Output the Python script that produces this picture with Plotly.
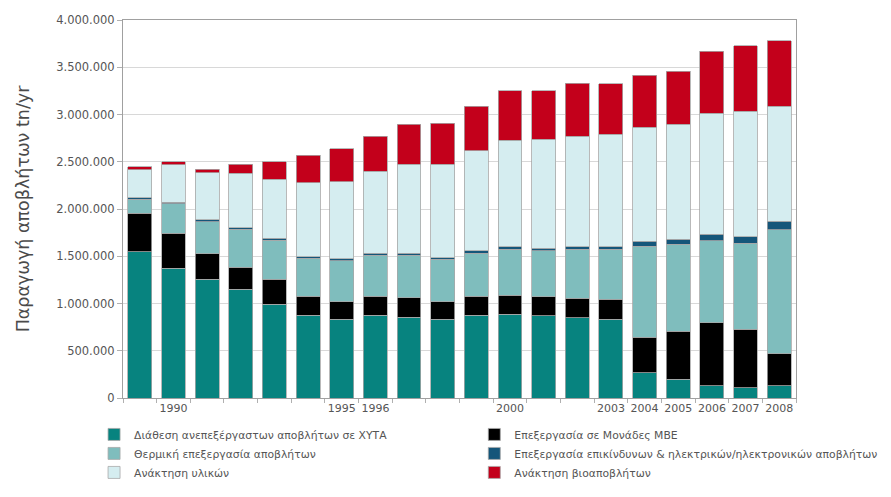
import plotly.graph_objects as go

# Years on the category axis (only some are labelled)
years = list(range(1989, 2009))
labelled_years = [1990, 1995, 1996, 2000, 2003, 2004, 2005, 2006, 2007, 2008]

# Waste quantities per management route, tonnes per year
landfill = [1548000, 1372000, 1256000, 1150000, 991000, 878000, 833000, 878000, 854000, 833000,
            878000, 885000, 868000, 850000, 833000, 265000, 198000, 130000, 109000, 130000]
mbt = [406000, 370000, 268000, 233000, 265000, 201000, 186000, 201000, 207000, 186000,
       201000, 205000, 204000, 205000, 211000, 377000, 511000, 667000, 618000, 336000]
thermal = [149000, 311000, 342000, 402000, 416000, 399000, 434000, 434000, 452000, 449000,
           452000, 483000, 487000, 518000, 529000, 966000, 917000, 868000, 910000, 1312000]
hazardous = [18000, 18000, 18000, 18000, 18000, 18000, 18000, 18000, 18000, 18000,
             25000, 25000, 25000, 25000, 25000, 50000, 53000, 67000, 70000, 95000]
materials = [292000, 395000, 500000, 574000, 627000, 783000, 818000, 871000, 941000, 986000,
             1058000, 1132000, 1153000, 1174000, 1192000, 1206000, 1217000, 1281000, 1330000, 1217000]
biowaste = [35000, 35000, 39000, 99000, 184000, 292000, 346000, 370000, 427000, 435000,
            476000, 519000, 515000, 558000, 533000, 550000, 564000, 659000, 688000, 691000]

series = [
    ("Διάθεση ανεπεξέργαστων αποβλήτων σε ΧΥΤΑ", landfill, "#07837f", "legend"),
    ("Επεξεργασία σε Μονάδες ΜΒΕ", mbt, "#000000", "legend2"),
    ("Θερμική επεξεργασία αποβλήτων", thermal, "#7fbdbd", "legend"),
    ("Επεξεργασία επικίνδυνων & ηλεκτρικών/ηλεκτρονικών αποβλήτων", hazardous, "#15567a", "legend2"),
    ("Ανάκτηση υλικών", materials, "#d5edf0", "legend"),
    ("Ανάκτηση βιοαποβλήτων", biowaste, "#c3001b", "legend2"),
]

FONT = "DejaVu Sans"
GREY = "#555555"

fig = go.Figure()
for name, values, colour, leg in series:
    fig.add_trace(go.Bar(
        x=years, y=values, name=name, legend=leg,
        marker=dict(color=colour, line=dict(color="#a8a8a8", width=0.8)),
    ))

fig.update_layout(
    width=891, height=497,
    barmode="stack", bargap=0.29,
    separators=",.",
    plot_bgcolor="white", paper_bgcolor="white",
    margin=dict(l=123, r=95, t=20, b=99, autoexpand=False),
    font=dict(family=FONT, color=GREY, size=11.5),
    legend=dict(x=-0.043, y=-0.058, xanchor="left", yanchor="top", orientation="v",
                traceorder="normal", font=dict(size=10.8, color=GREY), bgcolor="rgba(0,0,0,0)"),
    legend2=dict(x=0.522, y=-0.058, xanchor="left", yanchor="top", orientation="v",
                 traceorder="normal", font=dict(size=10.8, color=GREY), bgcolor="rgba(0,0,0,0)"),
)

fig.update_xaxes(
    range=[1988.5, 2008.5],
    tickmode="array", tickvals=labelled_years, ticktext=[str(y) for y in labelled_years],
    ticks="", showgrid=False,
    showline=True, linecolor="#a0a0a0", linewidth=1, mirror=True,
    tickfont=dict(size=11, color=GREY),
    minor=dict(tickmode="array", tickvals=[y + 0.5 for y in range(1988, 2009)],
               ticks="outside", ticklen=4, tickcolor="#b0b0b0", showgrid=False),
)

fig.update_yaxes(
    range=[0, 4000000], dtick=500000, tickformat=",.0f",
    showgrid=True, gridcolor="#d8d8d8", gridwidth=1,
    showline=True, linecolor="#a0a0a0", linewidth=1, mirror=True,
    ticks="outside", ticklen=5, tickcolor="#b0b0b0",
    tickfont=dict(size=11.5, color=GREY),
    title=dict(text="Παραγωγή αποβλήτων tn/yr", font=dict(size=17.5, color="#4a4a4a"), standoff=22),
    zeroline=False,
)

fig.write_html("out.html")
